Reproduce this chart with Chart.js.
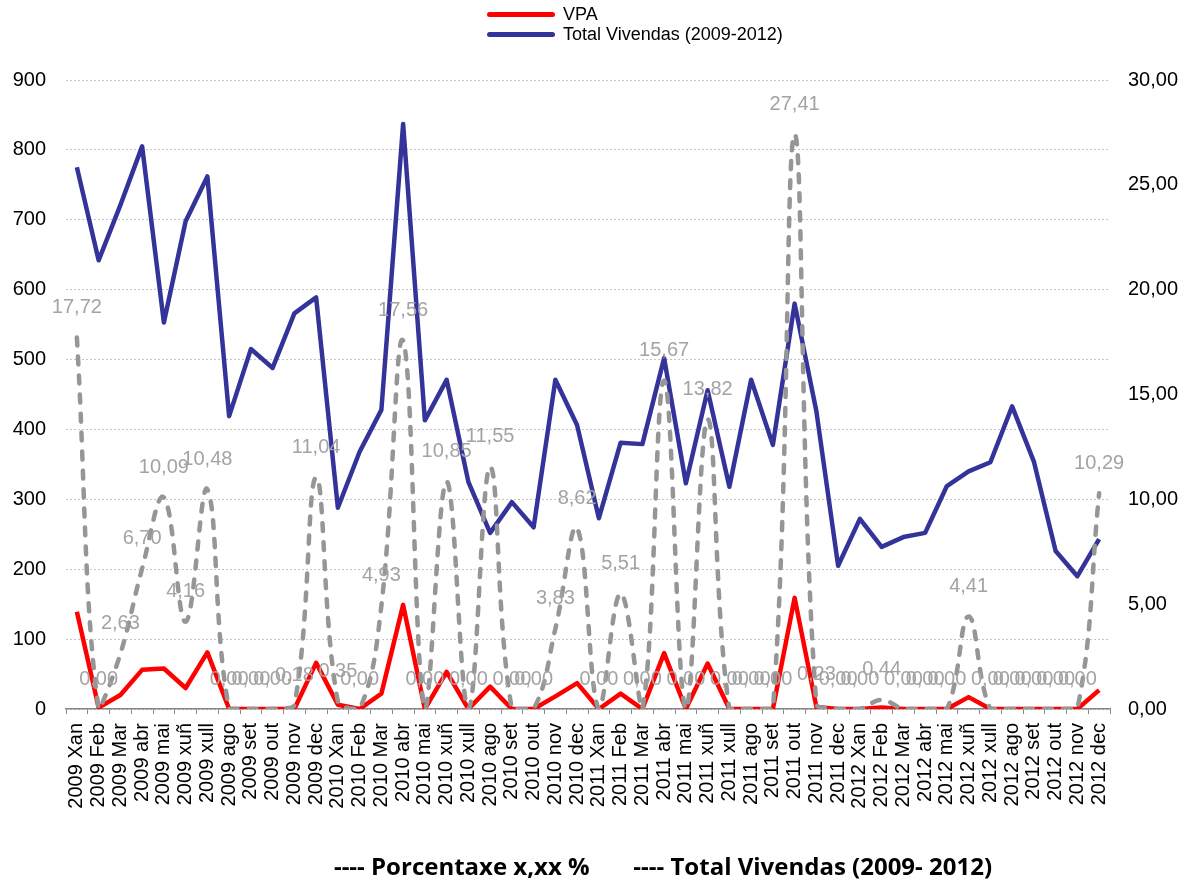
<!DOCTYPE html>
<html>
<head>
<meta charset="utf-8">
<script src="https://cdn.jsdelivr.net/npm/chart.js@4.4.1/dist/chart.umd.min.js"></script>
<style>
  body { margin: 0; background: #fff; }
  #caixa { position: relative; width: 1192px; height: 886px; }
  #lenda { position: absolute; left: 487px; top: 4px; font-family: Arial, "Liberation Sans", sans-serif; font-size: 18px; color: #000; }
  .item { height: 20px; line-height: 20px; white-space: nowrap; }
  .liña { display: inline-block; width: 68px; height: 5px; border-radius: 3px; vertical-align: middle; margin-right: 8px; position: relative; top: -1px; }
  #pe { position: absolute; left: 67px; width: 1192px; top: 851px; text-align: center; font-family: "Open Sans", sans-serif; font-weight: bold; font-size: 24px; line-height: 30px; white-space: pre; }
</style>
</head>
<body>
<div id="caixa">
  <canvas id="grafica" width="1192" height="886"></canvas>
  <div id="lenda">
    <div class="item"><span class="liña" style="background:#ff0000"></span>VPA</div>
    <div class="item"><span class="liña" style="background:#333399"></span>Total Vivendas (2009-2012)</div>
  </div>
  <div id="pe">---- Porcentaxe x,xx %       ---- Total Vivendas (2009- 2012)</div>
</div>
<script>
const meses = ['Xan', 'Feb', 'Mar', 'abr', 'mai', 'xuñ', 'xull', 'ago', 'set', 'out', 'nov', 'dec'];
const anos = ['2009', '2010', '2011', '2012'];
const etiquetasX = [];
anos.forEach((a) => meses.forEach((m) => etiquetasX.push(a + ' ' + m)));

const vpa = [139, 2, 20, 56, 58, 30, 81, 0, 0, 0, 0, 66,
             6, 0, 22, 149, 0, 53, 0, 32, 0, 0, 18, 37,
             0, 22, 0, 80, 0, 65, 0, 0, 0, 159, 3, 0,
             0, 2, 0, 0, 0, 17, 0, 0, 0, 0, 0, 27];

const totalVivendas = [775, 642, 721, 805, 553, 698, 762, 419, 515, 488, 566, 589,
                       288, 368, 428, 837, 413, 471, 325, 252, 296, 260, 471, 406,
                       273, 381, 379, 502, 323, 456, 318, 471, 378, 580, 426, 205,
                       272, 232, 246, 252, 319, 340, 353, 433, 354, 226, 190, 243];

const porcentaxe = [17.72, 0, 2.63, 6.70, 10.09, 4.16, 10.48, 0, 0, 0, 0.18, 11.04,
                    0.35, 0, 4.93, 17.56, 0, 10.85, 0, 11.55, 0, 0, 3.83, 8.62,
                    0, 5.51, 0, 15.67, 0, 13.82, 0, 0, 0, 27.41, 0.23, 0,
                    0, 0.44, 0, 0, 0, 4.41, 0, 0, 0, 0, 0, 10.29];

const ticksEsquerda = [0, 100, 200, 300, 400, 500, 600, 700, 800, 900];
const ticksDereita = [0, 5, 10, 15, 20, 25, 30];

function coma(v) {
    return v.toFixed(2).replace('.', ',');
}

Chart.defaults.font.family = 'Arial, "Liberation Sans", sans-serif';
Chart.defaults.color = '#000';

// etiquetas de datos da serie de porcentaxe
const etiquetas = {
    id: 'etiquetas',
    afterDatasetsDraw(chart) {
        const ctx = chart.ctx;
        const meta = chart.getDatasetMeta(2);
        ctx.save();
        ctx.font = '20px Arial, "Liberation Sans", sans-serif';
        ctx.fillStyle = '#a3a3a3';
        ctx.textAlign = 'center';
        ctx.textBaseline = 'middle';
        meta.data.forEach((p, i) => {
            ctx.fillText(coma(porcentaxe[i]), p.x, p.y - 30);
        });
        ctx.restore();
    }
};

const config = {
    type: 'line',
    data: {
        labels: etiquetasX,
        datasets: [
            {
                label: 'VPA',
                data: vpa,
                yAxisID: 'y',
                borderColor: '#ff0000',
                borderWidth: 4.5,
                pointRadius: 0,
                borderJoinStyle: 'round',
                tension: 0,
                order: 1
            },
            {
                label: 'Total Vivendas (2009-2012)',
                data: totalVivendas,
                yAxisID: 'y',
                borderColor: '#333399',
                borderWidth: 4.5,
                pointRadius: 0,
                borderJoinStyle: 'round',
                tension: 0,
                order: 2
            },
            {
                label: 'Porcentaxe',
                data: porcentaxe,
                yAxisID: 'y1',
                borderColor: '#969696',
                borderWidth: 4.5,
                borderDash: [8, 11],
                borderCapStyle: 'round',
                pointRadius: 0,
                tension: 0.4,
                order: 0
            }
        ]
    },
    options: {
        responsive: false,
        animation: false,
        layout: { padding: { top: 80, left: 0, right: 0, bottom: 0 } },
        plugins: {
            legend: { display: false },
            tooltip: { enabled: false }
        },
        scales: {
            x: {
                offset: true,
                grid: { drawOnChartArea: false, drawTicks: true, tickLength: 5, color: '#868686', offset: true },
                border: { color: '#868686', width: 1.5 },
                ticks: { autoSkip: false, maxRotation: 90, minRotation: 90, padding: 9, font: { size: 20 } },
                afterFit: (s) => { s.height = 177; }
            },
            y: {
                position: 'left',
                min: 0,
                max: 900,
                afterBuildTicks: (s) => { s.ticks = ticksEsquerda.map((v) => ({ value: v })); },
                grid: { color: '#c4c4c4', drawTicks: false },
                border: { display: false, dash: [2, 2] },
                ticks: { padding: 20, font: { size: 20 } },
                afterFit: (s) => { s.width = 66; }
            },
            y1: {
                position: 'right',
                min: 0,
                max: 30,
                afterBuildTicks: (s) => { s.ticks = ticksDereita.map((v) => ({ value: v })); },
                grid: { display: false, drawTicks: false },
                border: { display: false },
                ticks: { padding: 18, font: { size: 20 }, callback: (v) => coma(v) },
                afterFit: (s) => { s.width = 82; }
            }
        }
    },
    plugins: [etiquetas]
};

new Chart(document.querySelector('#grafica'), config);
</script>
</body>
</html>
